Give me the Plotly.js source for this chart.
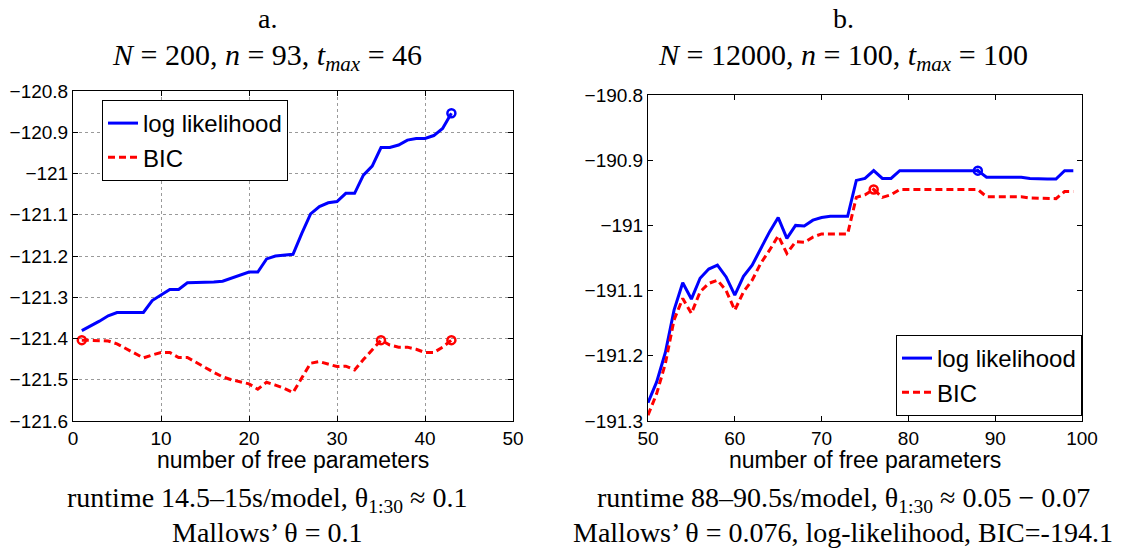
<!DOCTYPE html>
<html><head><meta charset="utf-8">
<script src="https://cdn.plot.ly/plotly-3.0.1.min.js"></script>
<style>html,body{margin:0;padding:0;background:#fff}#chart{width:1125px;height:548px}</style>
</head><body><div id="chart"></div>
<script>
// ---- Panel a data ----
const paramsA = [1,2,3,4,5,6,7,8,9,10,11,12,13,14,15,16,17,18,19,20,21,22,23,24,25,26,27,28,29,30,31,32,33,34,35,36,37,38,39,40,41,42,43];
const logLikA = [-121.381,-121.370,-121.358,-121.345,-121.337,-121.337,-121.337,-121.337,-121.308,-121.295,
  -121.281,-121.281,-121.265,-121.264,-121.264,-121.263,-121.261,-121.254,-121.247,-121.239,
  -121.239,-121.207,-121.200,-121.198,-121.196,-121.145,-121.098,-121.080,-121.071,-121.068,
  -121.048,-121.048,-121.004,-120.982,-120.937,-120.937,-120.931,-120.919,-120.915,-120.915,
  -120.908,-120.891,-120.854];
const bicA = [-121.404,-121.405,-121.406,-121.406,-121.413,-121.425,-121.437,-121.447,-121.440,-121.434,
  -121.434,-121.446,-121.446,-121.459,-121.470,-121.482,-121.493,-121.500,-121.505,-121.510,
  -121.523,-121.506,-121.513,-121.521,-121.531,-121.497,-121.460,-121.456,-121.462,-121.468,
  -121.467,-121.476,-121.451,-121.428,-121.404,-121.416,-121.421,-121.421,-121.426,-121.434,
  -121.434,-121.421,-121.404];
const llMarkA = [43];
const bicMarkA = [1, 35, 43];

// ---- Panel b data ----
const paramsB = [50,51,52,53,54,55,56,57,58,59,60,61,62,63,64,65,66,67,68,69,70,71,72,73,74,75,76,77,78,79,80,81,82,83,84,85,86,87,88,89,90,91,92,93,94,95,96,97,98,99];
const logLikB = [-191.272,-191.240,-191.195,-191.130,-191.088,-191.113,-191.081,-191.067,-191.061,-191.079,
  -191.107,-191.078,-191.061,-191.035,-191.010,-190.988,-191.020,-191.000,-191.001,-190.992,
  -190.988,-190.986,-190.986,-190.986,-190.931,-190.928,-190.916,-190.928,-190.928,-190.916,
  -190.916,-190.916,-190.916,-190.916,-190.916,-190.916,-190.916,-190.916,-190.916,-190.926,
  -190.926,-190.926,-190.926,-190.926,-190.928,-190.929,-190.929,-190.929,-190.916,-190.916];
const bicB = [-191.291,-191.258,-191.212,-191.145,-191.112,-191.135,-191.102,-191.089,-191.084,-191.100,
  -191.130,-191.102,-191.084,-191.058,-191.038,-191.016,-191.043,-191.025,-191.026,-191.018,
  -191.013,-191.013,-191.013,-191.013,-190.957,-190.953,-190.945,-190.957,-190.953,-190.945,
  -190.945,-190.945,-190.945,-190.945,-190.945,-190.945,-190.945,-190.945,-190.945,-190.956,
  -190.956,-190.956,-190.956,-190.956,-190.958,-190.958,-190.959,-190.959,-190.948,-190.948];
const llMarkB = [88];
const bicMarkB = [76];

// ---- Tick labels ----
const xTicksA = [0,10,20,30,40,50];
const xTicksB = [50,60,70,80,90,100];
const yTicksA = [-121.6,-121.5,-121.4,-121.3,-121.2,-121.1,-121,-120.9,-120.8];
const yTickTextA = ['\u2212121.6','\u2212121.5','\u2212121.4','\u2212121.3','\u2212121.2','\u2212121.1','\u2212121','\u2212120.9','\u2212120.8'];
const yTicksB = [-191.3,-191.2,-191.1,-191,-190.9,-190.8];
const yTickTextB = ['\u2212191.3','\u2212191.2','\u2212191.1','\u2212191','\u2212190.9','\u2212190.8'];

// ---- Texts ----
const seriesNames = ['log likelihood', 'BIC'];
const xLabel = 'number of free parameters';
const panelTitlesA = ['a.', '<i>N</i> = 200, <i>n</i> = 93, <i>t</i><sub><i>max</i></sub> = 46'];
const panelTitlesB = ['b.', '<i>N</i> = 12000, <i>n</i> = 100, <i>t</i><sub><i>max</i></sub> = 100'];
const captionsA = ['runtime 14.5\u201315s/model, \u03b8<sub>1:30</sub> \u2248 0.1', 'Mallows\u2019 \u03b8 = 0.1'];
const captionsB = ['runtime 88\u201390.5s/model, \u03b8<sub>1:30</sub> \u2248 0.05 \u2212 0.07', 'Mallows\u2019 \u03b8 = 0.076, log-likelihood, BIC=-194.1'];

const W = 1125, H = 548;
const px = v => v / W;
const py = v => (H - v) / H;
const pick = (xs, ys, sel) => sel.map(s => ys[xs.indexOf(s)]);

const BLUE = '#0000ff', RED = '#ff0000';
const dashStyle = '7px,4px';
const sans = 'Liberation Sans, Arial, sans-serif';
const serif = 'Liberation Serif, Times New Roman, serif';

const traces = [
  {x: paramsA, y: logLikA, name: seriesNames[0], mode: 'lines', line: {color: BLUE, width: 3}, xaxis: 'x', yaxis: 'y', legend: 'legend'},
  {x: paramsA, y: bicA, name: seriesNames[1], mode: 'lines', line: {color: RED, width: 3, dash: dashStyle}, xaxis: 'x', yaxis: 'y', legend: 'legend'},
  {x: llMarkA, y: pick(paramsA, logLikA, llMarkA), mode: 'markers', showlegend: false, marker: {symbol: 'circle-open', size: 8, color: BLUE, line: {width: 2.5, color: BLUE}}, xaxis: 'x', yaxis: 'y'},
  {x: bicMarkA, y: pick(paramsA, bicA, bicMarkA), mode: 'markers', showlegend: false, marker: {symbol: 'circle-open', size: 8, color: RED, line: {width: 2.5, color: RED}}, xaxis: 'x', yaxis: 'y'},
  {x: paramsB, y: logLikB, name: seriesNames[0], mode: 'lines', line: {color: BLUE, width: 3}, xaxis: 'x2', yaxis: 'y2', legend: 'legend2'},
  {x: paramsB, y: bicB, name: seriesNames[1], mode: 'lines', line: {color: RED, width: 3, dash: dashStyle}, xaxis: 'x2', yaxis: 'y2', legend: 'legend2'},
  {x: llMarkB, y: pick(paramsB, logLikB, llMarkB), mode: 'markers', showlegend: false, marker: {symbol: 'circle-open-dot', size: 8, color: BLUE, line: {width: 2.5, color: BLUE}}, xaxis: 'x2', yaxis: 'y2'},
  {x: bicMarkB, y: pick(paramsB, bicB, bicMarkB), mode: 'markers', showlegend: false, marker: {symbol: 'circle-open-dot', size: 8, color: RED, line: {width: 2.5, color: RED}}, xaxis: 'x2', yaxis: 'y2'}
];

const axisCommon = {
  showline: true, linecolor: '#000', linewidth: 1, mirror: 'ticks',
  ticks: 'inside', ticklen: 5, tickcolor: '#000', tickwidth: 1,
  tickfont: {family: sans, size: 19, color: '#000'}, zeroline: false, fixedrange: true
};

const legendCommon = {
  bgcolor: '#fff', bordercolor: '#000', borderwidth: 1,
  font: {family: sans, size: 24, color: '#000'}, tracegroupgap: 0
};

const ann = (text, x, y, size, family) => ({text, x: px(x), y: py(y), xref: 'paper', yref: 'paper', showarrow: false,
  xanchor: 'center', yanchor: 'middle', font: {family, size, color: '#000'}});

const layout = {
  width: W, height: H,
  margin: {l: 0, r: 0, t: 0, b: 0},
  paper_bgcolor: '#fff', plot_bgcolor: '#fff',
  showlegend: true,
  xaxis: Object.assign({}, axisCommon, {domain: [px(73), px(513)], range: [0, 50], tickvals: xTicksA,
    showgrid: true, gridcolor: '#9a9a9a', griddash: 'dot', gridwidth: 1, anchor: 'y'}),
  yaxis: Object.assign({}, axisCommon, {domain: [py(421), py(91)], range: [-121.6, -120.8], tickvals: yTicksA, ticktext: yTickTextA,
    showgrid: true, gridcolor: '#9a9a9a', griddash: 'dot', gridwidth: 1, anchor: 'x'}),
  xaxis2: Object.assign({}, axisCommon, {domain: [px(648), px(1082)], range: [50, 100], tickvals: xTicksB,
    showgrid: false, anchor: 'y2'}),
  yaxis2: Object.assign({}, axisCommon, {domain: [py(421), py(95)], range: [-191.3, -190.8], tickvals: yTicksB, ticktext: yTickTextB,
    showgrid: false, anchor: 'x2'}),
  legend: Object.assign({}, legendCommon, {x: px(102), y: py(100), xanchor: 'left', yanchor: 'top'}),
  legend2: Object.assign({}, legendCommon, {x: px(1082), y: py(416), xanchor: 'right', yanchor: 'bottom'}),
  annotations: [
    ann(xLabel, 293, 460, 23, sans),
    ann(xLabel, 865, 460, 23, sans),
    ann(panelTitlesA[0], 267, 19, 28, serif),
    ann(panelTitlesA[1], 267, 57, 30, serif),
    ann(panelTitlesB[0], 843, 19, 28, serif),
    ann(panelTitlesB[1], 843, 57, 30, serif),
    ann(captionsA[0], 267, 499, 28, serif),
    ann(captionsA[1], 267, 532, 28, serif),
    ann(captionsB[0], 843, 499, 28, serif),
    ann(captionsB[1], 843, 532, 28, serif)
  ]
};

Plotly.newPlot('chart', traces, layout, {staticPlot: true, displayModeBar: false});
</script>
</body></html>
